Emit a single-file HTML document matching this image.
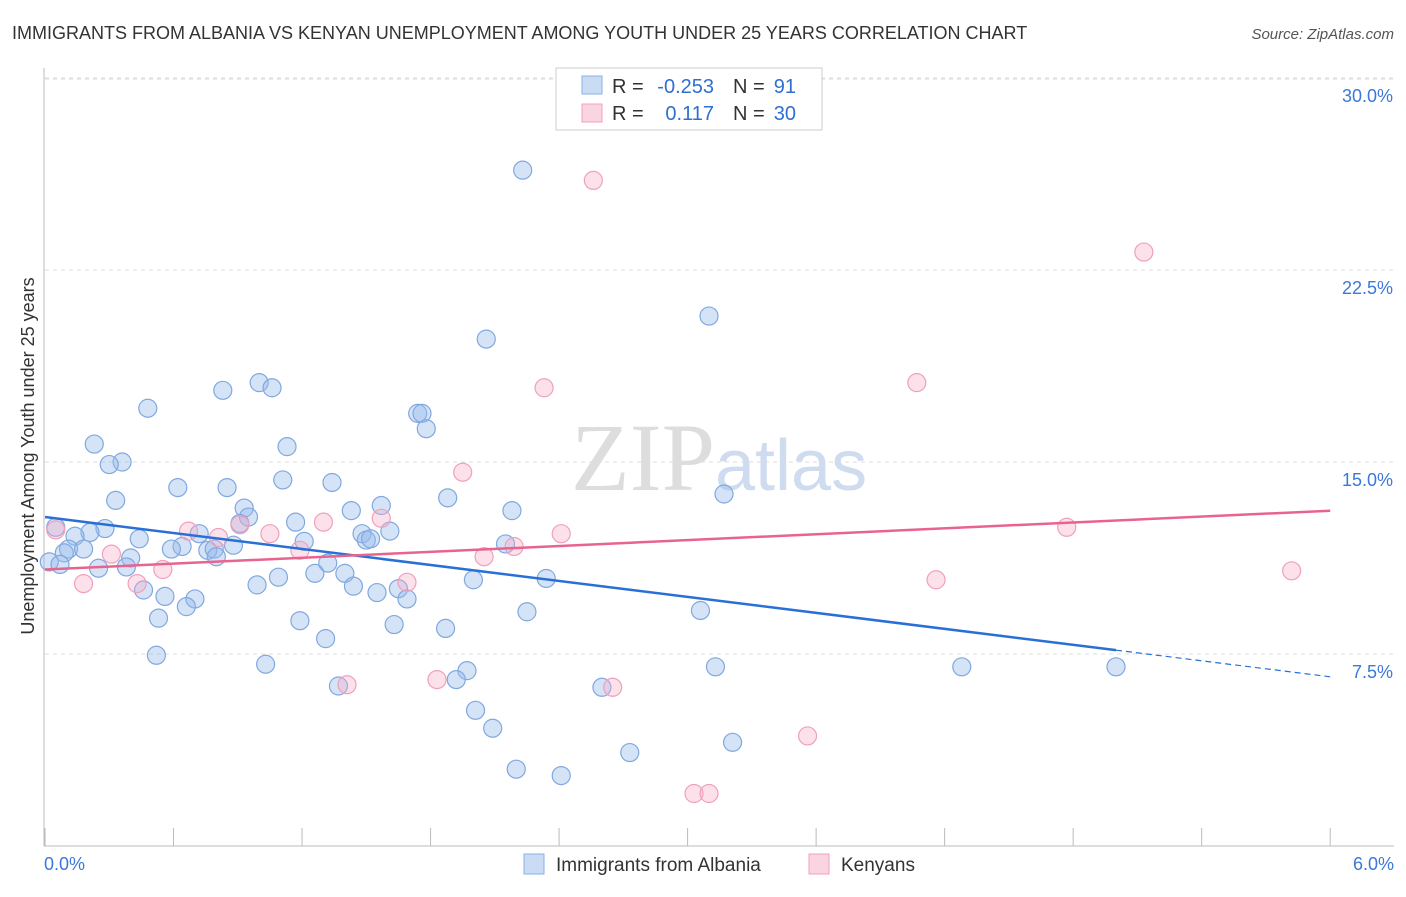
<!DOCTYPE html>
<html><head><meta charset="utf-8"><style>
body{margin:0;background:#fff;font-family:"Liberation Sans",sans-serif;}
svg text{font-family:"Liberation Sans",sans-serif;}
</style></head><body>
<svg id="chart" width="1406" height="892">
<text x="12" y="39" font-size="18" fill="#333">IMMIGRANTS FROM ALBANIA VS KENYAN UNEMPLOYMENT AMONG YOUTH UNDER 25 YEARS CORRELATION CHART</text>
<text x="1394" y="39" font-size="15" fill="#555" text-anchor="end" font-style="italic">Source: ZipAtlas.com</text>
<g id="grid"></g>
<text x="715" y="490" font-size="96" fill="#ddd" text-anchor="end" style="font-family:'Liberation Serif',serif">ZIP</text>
<text x="715" y="490" font-size="72" fill="#cfdcf0">atlas</text>
<g id="marks"></g>
<text x="34" y="456" font-size="18" fill="#333" text-anchor="middle" transform="rotate(-90 34 456)">Unemployment Among Youth under 25 years</text>
<g>
<rect x="556" y="68" width="266" height="62" fill="#fff" stroke="#ccc"/>
<rect x="582" y="76" width="20" height="18" fill="rgba(150,185,235,0.5)" stroke="#8ab0e0"/>
<rect x="582" y="104" width="20" height="18" fill="rgba(245,170,195,0.5)" stroke="#f0a0bc"/>
<text x="612" y="93" font-size="20" fill="#333">R =</text>
<text x="714" y="93" font-size="20" fill="#2f6fd1" text-anchor="end">-0.253</text>
<text x="733" y="93" font-size="20" fill="#333">N =</text>
<text x="796" y="93" font-size="20" fill="#2f6fd1" text-anchor="end">91</text>
<text x="612" y="120" font-size="20" fill="#333">R =</text>
<text x="714" y="120" font-size="20" fill="#2f6fd1" text-anchor="end">0.117</text>
<text x="733" y="120" font-size="20" fill="#333">N =</text>
<text x="796" y="120" font-size="20" fill="#2f6fd1" text-anchor="end">30</text>
</g>
<g>
<rect x="524" y="854" width="20" height="20" fill="rgba(150,185,235,0.5)" stroke="#8ab0e0"/>
<text x="556" y="871" font-size="19" fill="#333">Immigrants from Albania</text>
<rect x="809" y="854" width="20" height="20" fill="rgba(245,170,195,0.5)" stroke="#f0a0bc"/>
<text x="841" y="871" font-size="19" fill="#333">Kenyans</text>
</g>
</svg>
<script>
const yTicks=[7.5,15,22.5,30];
const yTickLabels=["7.5%","15.0%","22.5%","30.0%"];
const xEndLabels=["0.0%","6.0%"];
const blueX=[2.23,3.10,2.06,1.00,1.06,0.83,0.48,1.74,1.76,1.78,0.23,1.13,0.36,0.30,1.11,1.34,0.62,0.85,1.88,3.17,0.33,1.57,0.93,1.43,2.18,0.95,0.91,1.17,0.28,0.05,1.61,0.21,0.72,0.14,0.44,1.48,1.50,1.52,2.15,1.21,0.88,0.64,0.59,0.11,0.18,0.76,0.79,0.09,0.80,0.40,0.02,0.07,1.32,0.25,0.38,1.26,1.40,1.09,2.00,2.34,0.99,1.44,0.46,1.65,1.55,0.56,0.70,1.69,0.66,3.06,2.25,0.53,1.19,1.63,1.87,1.31,0.52,1.03,3.13,4.28,5.00,1.97,1.92,1.37,2.60,2.01,2.09,3.21,2.73,2.20,2.41];
const blueY=[26.4,20.7,19.8,18.1,17.9,17.8,17.1,16.9,16.9,16.3,15.7,15.6,15.0,14.9,14.3,14.2,14.0,14.0,13.6,13.75,13.5,13.3,13.2,13.1,13.1,12.85,12.6,12.65,12.4,12.45,12.3,12.25,12.2,12.1,12.0,12.2,11.95,12.0,11.8,11.9,11.75,11.7,11.6,11.6,11.6,11.55,11.6,11.45,11.3,11.25,11.1,11.0,11.05,10.85,10.9,10.65,10.65,10.5,10.4,10.45,10.2,10.15,10.0,10.05,9.9,9.75,9.65,9.65,9.35,9.2,9.15,8.9,8.8,8.65,8.5,8.1,7.45,7.1,7.0,7.0,7.0,6.85,6.5,6.25,6.2,5.3,4.6,4.05,3.65,3.0,2.75];
const pinkX=[2.56,5.13,4.07,2.33,1.95,1.57,1.30,4.77,0.05,0.67,0.91,2.41,1.05,0.81,2.19,1.19,0.31,2.05,0.55,5.82,0.18,4.16,1.69,0.43,1.41,1.83,2.65,3.56,3.03,3.10];
const pinkY=[26.0,23.2,18.1,17.9,14.6,12.8,12.65,12.45,12.35,12.3,12.55,12.2,12.2,12.05,11.7,11.55,11.4,11.3,10.8,10.75,10.25,10.4,10.3,10.25,6.3,6.5,6.2,4.3,2.05,2.05];
const blueTrend=[12.85,-1.04];
const pinkTrend=[10.8,0.383];
const X=v=>45+v*214.2, Y=v=>846-v*25.6;
const NS="http://www.w3.org/2000/svg";
function mk(t,a,p){const e=document.createElementNS(NS,t);for(const k in a)e.setAttribute(k,a[k]);p.appendChild(e);return e;}
const gridG=document.getElementById('grid'), marksG=document.getElementById('marks');
yTicks.forEach((t,i)=>{
 const l=mk('line',{x1:45,x2:1394,y1:Y(t),y2:Y(t),stroke:'#ddd','stroke-dasharray':'4,4'},gridG);
 
 
 const tx=mk('text',{x:1393,y:Y(t)+24,'font-size':18,fill:'#3b78d8','text-anchor':'end'},gridG);
 tx.textContent=yTickLabels[i];
 
 
});
const topLine=mk('line',{x1:45,x2:1394,y1:79,y2:79,stroke:'#ddd','stroke-dasharray':'4,4'},gridG);


const ax=mk('line',{x1:44,x2:1394,y1:846,y2:846,stroke:'#bbb'},gridG);


const ay=mk('line',{x1:44,x2:44,y1:68,y2:846,stroke:'#bbb'},gridG);


for(let i=0;i<=10;i++){const t=mk('line',{x1:X(i*0.6),x2:X(i*0.6),y1:828,y2:846,stroke:'#bbb'},gridG);
 
 }
[[0,'start',44],[6,'end',1394]].forEach((d,i)=>{const t=mk('text',{x:d[2],y:870,'font-size':18,fill:'#3b78d8','text-anchor':d[1]},gridG);t.textContent=xEndLabels[i];
 
 });
blueX.forEach((x,i)=>{const c=mk('circle',{cx:X(x),cy:Y(blueY[i]),r:9,fill:'rgba(150,185,235,0.4)',stroke:'#80a8e0','stroke-width':1.2},marksG);
 
 });
pinkX.forEach((x,i)=>{const c=mk('circle',{cx:X(x),cy:Y(pinkY[i]),r:9,fill:'rgba(245,170,195,0.35)',stroke:'#f0a0bc','stroke-width':1.2},marksG);
 
 });
const bt=v=>blueTrend[0]+blueTrend[1]*v, pt=v=>pinkTrend[0]+pinkTrend[1]*v;
const b1=mk('line',{x1:X(0),y1:Y(bt(0)),x2:X(5),y2:Y(bt(5)),stroke:'#2a6fd6','stroke-width':2.5},marksG);


const b2=mk('line',{x1:X(5),y1:Y(bt(5)),x2:X(6),y2:Y(bt(6)),stroke:'#2a6fd6','stroke-width':1.2,'stroke-dasharray':'6,4'},marksG);


const p1=mk('line',{x1:X(0),y1:Y(pt(0)),x2:X(6),y2:Y(pt(6)),stroke:'#e8648f','stroke-width':2.5},marksG);


</script>
</body></html>
